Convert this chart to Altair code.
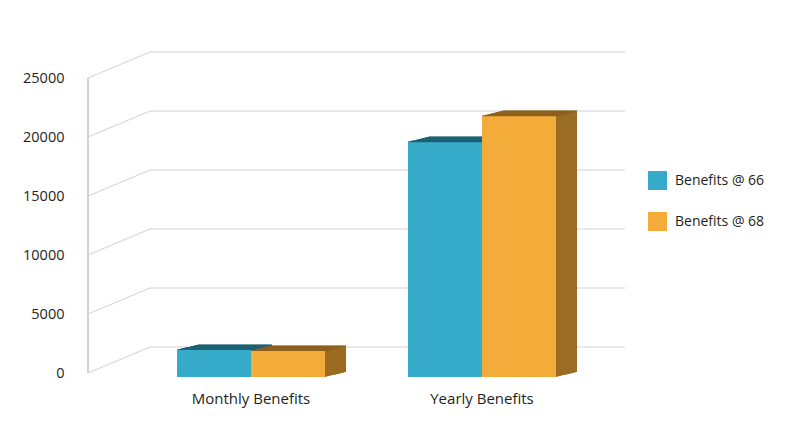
import altair as alt
import pandas as pd

# ---- data ----
categories = ["Monthly Benefits", "Yearly Benefits"]
series = ["Benefits @ 66", "Benefits @ 68"]
benefits_66 = [2280, 19900]
benefits_68 = [2200, 22100]
tick_values = [0, 5000, 10000, 15000, 20000, 25000]

rows = []
for c, v66, v68 in zip(categories, benefits_66, benefits_68):
    rows.append({"category": c, "series": series[0], "value": v66})
    rows.append({"category": c, "series": series[1], "value": v68})
df = pd.DataFrame(rows)
grid_df = pd.DataFrame({"v": tick_values})

# ---- styles ----
FONT = "Open Sans"
TEXT = "#231f20"
GRID = "#d2d2d2"
front_colors = ["#35aac9", "#f3ab3a"]
top_colors = ["#1f6175", "#8d611e"]
side_colors = ["#216679", "#9b6c23"]
bar_w = 74
centers = [-37, 37]
depth_x = 21
depth_y = 5.0

yscale = alt.Scale(domain=[0, 25000], nice=False, zero=True)
yaxis = alt.Axis(values=tick_values, format="d", grid=False, domain=False, ticks=False,
                 labelFontSize=14.5, labelColor=TEXT, labelFont=FONT,
                 labelPadding=24, labelOffset=-4, title=None)
xscale = alt.Scale(domain=categories, paddingInner=0, paddingOuter=0.2056)
xaxis = alt.Axis(domain=False, ticks=False, grid=False, labelAngle=0,
                 labelFontSize=15, labelColor=TEXT, labelFont=FONT,
                 labelPadding=14, title=None)


def Y(field):
    return alt.Y(field, type="quantitative", scale=yscale, axis=yaxis)


def X():
    return alt.X("category:N", scale=xscale, axis=xaxis, sort=categories)


layers = []

# back wall grid lines
layers.append(
    alt.Chart(grid_df).mark_rule(color=GRID, strokeWidth=1, yOffset=-30)
    .encode(y=Y("v"), x=alt.value(62), x2=alt.value(537))
)
# side wall diagonals
layers.append(
    alt.Chart(grid_df).mark_rule(color=GRID, strokeWidth=1, yOffset=-4, y2Offset=-30)
    .encode(y=Y("v"), y2="v", x=alt.value(0), x2=alt.value(62))
)
# front vertical edge
layers.append(
    alt.Chart(grid_df).mark_rule(color=GRID, strokeWidth=1, yOffset=-4, y2Offset=-4)
    .encode(y=alt.Y(datum=0, scale=yscale, axis=yaxis), y2=alt.datum(25000), x=alt.value(0))
)

n_steps = 21
for i, s in enumerate(series):
    base = alt.Chart(df).transform_filter(alt.datum.series == s)
    # extrusion (side faces)
    for k in range(n_steps, 0, -1):
        ox = centers[i] + k * depth_x / n_steps
        oy = -k * depth_y / n_steps
        layers.append(
            base.mark_bar(width=bar_w, color=side_colors[i], xOffset=ox,
                          yOffset=oy, y2Offset=oy)
            .encode(x=X(), y=Y("value"))
        )
    # top faces
    for k in range(n_steps, -1, -1):
        ox = centers[i] + k * depth_x / n_steps
        oy = -k * depth_y / n_steps
        layers.append(
            base.mark_tick(size=bar_w, thickness=1.2, color=top_colors[i],
                           xOffset=ox, yOffset=oy, opacity=1)
            .encode(x=X(), y=Y("value"))
        )
    # front faces
    layers.append(
        base.mark_bar(width=bar_w, xOffset=centers[i], opacity=1)
        .encode(
            x=X(),
            y=Y("value"),
            color=alt.Color(
                "series:N",
                scale=alt.Scale(domain=series, range=front_colors),
                legend=alt.Legend(
                    title=None, orient="none", legendX=560, legendY=89,
                    symbolType="square", symbolSize=361, symbolStrokeWidth=0,
                    symbolOpacity=1, labelFontSize=14, labelFont=FONT,
                    labelColor=TEXT, labelOffset=8, rowPadding=22, padding=0,
                ),
            ),
        )
    )

chart = (
    alt.layer(*layers)
    .properties(
        width=557,
        height=295,
        autosize="none",
        padding={"left": 80, "top": 74, "right": 147, "bottom": 46},
        background="white",
    )
    .configure(font=FONT)
    .configure_view(stroke="transparent", strokeWidth=0)
)

chart.save("out.html", embed_options={"renderer": "svg", "actions": False})
